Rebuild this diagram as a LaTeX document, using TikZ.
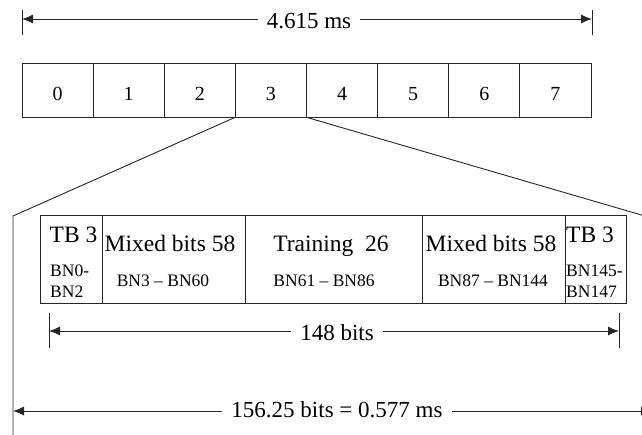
\documentclass[tikz,border=0pt]{standalone}
\usepackage{fontspec}
\setmainfont{Liberation Serif}
\usetikzlibrary{arrows.meta}
\begin{document}
\begin{tikzpicture}[x=1pt,y=-1pt,
  ln/.style={line width=0.9pt, draw=black!85},
  dim/.style={ln, {Latex[length=11pt,width=9pt]}-{Latex[length=11pt,width=9pt]}},
  lbl/.style={fill=white, inner xsep=9pt, inner ysep=1pt, font=\fontsize{23}{26}\selectfont},
  slot/.style={ln, minimum width=71.125pt, minimum height=54pt, inner sep=0pt},
  digit/.style={font=\fontsize{20}{24}\selectfont, inner sep=0pt, anchor=base},
  seg/.style={ln, minimum height=88pt, inner sep=0pt},
  big/.style={font=\fontsize{23.5}{26}\selectfont, inner sep=0pt, anchor=base},
  small/.style={font=\fontsize{17.5}{20}\selectfont, inner sep=0pt, anchor=base},
]
\clip (0,0) rectangle (642,435);
% top dimension
\coordinate (tl) at (22,19);
\coordinate (tr) at (592,19);
\coordinate (tlA) at (22,10); \coordinate (tlB) at (22,35);
\coordinate (trA) at (592,10); \coordinate (trB) at (592,35);
\draw[ln] (tlA) -- (tlB);
\draw[ln] (trA) -- (trB);
\draw[dim] (tl) -- (tr);
\node[lbl] (ltop) at (309,21) {4.615 ms};
% slots
\foreach \i in {0,...,7}{
  \node[slot] (s\i) at ({22+71.125*(\i+0.5)},90) {};
  \node[digit] (d\i) at ({22+71.125*(\i+0.5)},101) {\i};
}
% frame and zoom lines
\coordinate (fl) at (13,216);
\coordinate (fb) at (13,436);
\coordinate (fr) at (662,221);
\draw[ln] (s3.south west) -- (fl) -- (fb);
\draw[ln] (s3.south east) -- (fr);
% burst segments
\node[seg, minimum width=62pt]  (b1) at (71,259) {};
\node[seg, minimum width=143pt] (b2) at (173.5,259) {};
\node[seg, minimum width=177pt] (b3) at (333.5,259) {};
\node[seg, minimum width=143pt] (b4) at (493.5,259) {};
\node[seg, minimum width=61pt]  (b5) at (595.5,259) {};
% burst texts
\node[big] (t1) at (73.5,243) {TB 3};
\node[small, anchor=base west] (n1a) at (50,277) {BN0-};
\node[small, anchor=base west] (n1b) at (50,298) {BN2};
\node[big] (t2) at (170,252) {Mixed bits 58};
\node[small] (n2) at (163,287) {BN3 -- BN60};
\node[big] (t3) at (331,252) {Training\ \ 26};
\node[small] (n3) at (324,287) {BN61 -- BN86};
\node[big] (t4) at (491,252) {Mixed bits 58};
\node[small] (n4) at (493,287) {BN87 -- BN144};
\node[big, anchor=base west] (t5) at (566,243) {TB 3};
\node[small, anchor=base west] (n5a) at (566,277) {BN145-};
\node[small, anchor=base west] (n5b) at (566,298) {BN147};
% 148 bits dimension
\coordinate (ml) at (49,331);
\coordinate (mr) at (619,331);
\coordinate (mlA) at (49,313); \coordinate (mlB) at (49,348);
\coordinate (mrA) at (619,313); \coordinate (mrB) at (619,348);
\draw[ln] (mlA) -- (mlB);
\draw[ln] (mrA) -- (mrB);
\draw[dim] (ml) -- (mr);
\node[lbl] (lmid) at (337,333) {148 bits};
% bottom dimension
\coordinate (bl) at (13,411);
\coordinate (br) at (652,411);
\draw[dim] (bl) -- (br);
\node[lbl] (lbot) at (337,410) {156.25 bits = 0.577 ms};
\end{tikzpicture}
\end{document}
